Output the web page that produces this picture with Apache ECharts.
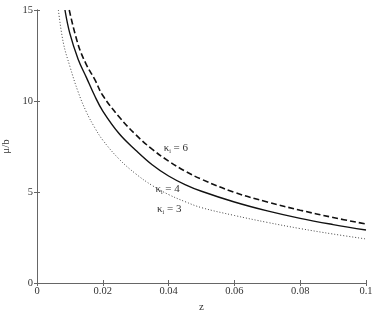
<!DOCTYPE html>
<html>
<head>
<meta charset="utf-8">
<script src="https://cdn.jsdelivr.net/npm/echarts@6/dist/echarts.min.js"></script>
<style>
  html, body { margin: 0; padding: 0; background: #fff; }
  #chart { width: 378px; height: 311px; }
</style>
</head>
<body>
<div id="chart"></div>
<script>
// 曲线数据
var zK6 = [0.0098, 0.0125, 0.015, 0.0175, 0.02, 0.025, 0.03, 0.035, 0.04, 0.045, 0.05, 0.06, 0.07, 0.08, 0.09, 0.1];
var muK6 = [15, 13.1, 12.0, 11.2, 10.3, 9.12, 8.15, 7.35, 6.7, 6.15, 5.7, 4.98, 4.45, 4.0, 3.6, 3.24];

var zK4 = [0.0085, 0.01, 0.0125, 0.015, 0.0175, 0.02, 0.025, 0.03, 0.035, 0.04, 0.045, 0.05, 0.06, 0.07, 0.08, 0.09, 0.1];
var muK4 = [15, 13.7, 12.3, 11.3, 10.3, 9.45, 8.2, 7.3, 6.5, 5.88, 5.41, 5.04, 4.45, 3.96, 3.55, 3.21, 2.91];

var zK3 = [0.0065, 0.008, 0.01, 0.0125, 0.015, 0.0175, 0.02, 0.025, 0.03, 0.035, 0.04, 0.045, 0.05, 0.06, 0.07, 0.08, 0.09, 0.1];
var muK3 = [15, 13.2, 11.9, 10.5, 9.4, 8.55, 7.85, 6.8, 6.0, 5.36, 4.86, 4.47, 4.14, 3.71, 3.33, 2.99, 2.69, 2.42];

var xTicks = [0, 0.02, 0.04, 0.06, 0.08, 0.1];
var yTicks = [0, 5, 10, 15];

// 曲线标注
var kLabels = ["6", "4", "3"];
var kLabelPos = [[0.0422, 7.42], [0.0397, 5.16], [0.0402, 4.07]];

function pairs(xs, ys) {
  return xs.map(function (x, i) { return [x, ys[i]]; });
}

var serif = "'Liberation Serif', 'Times New Roman', serif";
var axisColor = "#666";
var textColor = "#333";

var labelRich = {
  k: { fontFamily: serif, fontSize: 11, color: textColor },
  s: { fontFamily: serif, fontSize: 6, color: textColor, padding: [6, 0, 0, 0] },
  t: { fontFamily: serif, fontSize: 11, color: textColor }
};

function kMark(i) {
  return {
    coord: kLabelPos[i],
    symbol: "circle",
    symbolSize: 0,
    label: {
      show: true,
      position: "inside",
      formatter: "{k|κ}{s|i}{t| = " + kLabels[i] + "}",
      rich: labelRich
    }
  };
}

var baseAxis = {
  axisLine: { show: true, lineStyle: { color: axisColor, width: 1 } },
  axisTick: { show: true, inside: true, length: 3, lineStyle: { color: axisColor } },
  splitLine: { show: false }
};

var option = {
  backgroundColor: "#fff",
  animation: false,
  grid: { left: 37, right: 12, top: 10, bottom: 28, containLabel: false, outerBoundsMode: "none" },
  xAxis: [
    Object.assign({}, baseAxis, {
      type: "value", min: 0, max: 0.1, interval: 0.02,
      name: "z", nameLocation: "middle", nameGap: 13,
      nameTextStyle: { fontFamily: serif, fontSize: 11, color: textColor },
      axisLabel: {
        fontFamily: serif, fontSize: 10.5, color: textColor, margin: 3,
        formatter: function (v) {
          return xTicks.indexOf(+v.toFixed(2)) >= 0 ? String(+v.toFixed(2)) : "";
        }
      }
    }),
    Object.assign({}, baseAxis, {
      type: "value", min: 0, max: 0.1, interval: 0.02, position: "top",
      axisLabel: { show: false }
    })
  ],
  yAxis: [
    Object.assign({}, baseAxis, {
      type: "value", min: 0, max: 15, interval: 5,
      name: "μ/b", nameLocation: "middle", nameGap: 22, nameRotate: 90,
      nameTextStyle: { fontFamily: serif, fontSize: 11, color: textColor },
      axisLabel: {
        fontFamily: serif, fontSize: 10.5, color: textColor, margin: 4,
        formatter: function (v) { return yTicks.indexOf(v) >= 0 ? String(v) : ""; }
      }
    }),
    Object.assign({}, baseAxis, {
      type: "value", min: 0, max: 15, interval: 5, position: "right",
      axisLabel: { show: false }
    })
  ],
  series: [
    {
      name: "k6", type: "line", smooth: 0.4, symbol: "none",
      data: pairs(zK6, muK6),
      lineStyle: { color: "#111", width: 1.6, type: [6, 3] },
      markPoint: { data: [kMark(0)] }
    },
    {
      name: "k4", type: "line", smooth: 0.4, symbol: "none",
      data: pairs(zK4, muK4),
      lineStyle: { color: "#111", width: 1.4, type: "solid" },
      markPoint: { data: [kMark(1)] }
    },
    {
      name: "k3", type: "line", smooth: 0.4, symbol: "none",
      data: pairs(zK3, muK3),
      lineStyle: { color: "#444", width: 1, type: [1, 2] },
      markPoint: { data: [kMark(2)] }
    }
  ]
};

var chartObj = echarts.init(document.getElementById("chart"));
chartObj.setOption(option);
window.addEventListener("resize", function () {
  chartObj.resize();
});
</script>
</body>
</html>
